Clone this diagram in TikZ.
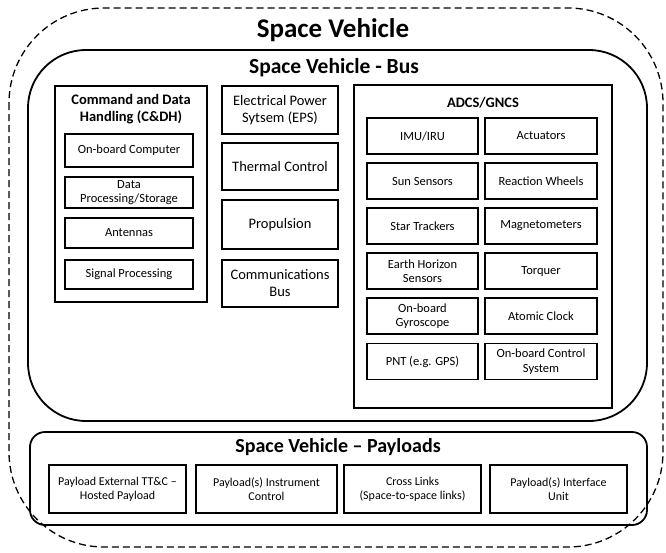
\documentclass[tikz,border=0pt]{standalone}
\usepackage{fontspec}
\setmainfont{Carlito}
\begin{document}
\begin{tikzpicture}[x=1pt,y=-1pt,
  sbox/.style={draw, line width=1.8pt, align=center, inner sep=1pt, font=\fontsize{12.5}{14.5}\selectfont},
  mbox/.style={draw, line width=1.8pt, align=center, inner sep=1pt, minimum width=116pt, font=\fontsize{14.5}{17}\selectfont},
  cbox/.style={sbox, minimum width=128pt},
  lbox/.style={sbox, minimum width=111pt, minimum height=36pt},
  rbox/.style={sbox, minimum width=112pt, minimum height=36pt},
  pbox/.style={sbox, minimum height=48pt, font=\fontsize{12}{14}\selectfont},
  container/.style={draw, line width=1.8pt},
  ttl/.style={font=\bfseries\fontsize{20}{24}\selectfont}
]
\useasboundingbox (0,0) rectangle (666,552);
% outer dashed
\draw[line width=1.3pt, dash pattern=on 7pt off 4pt, rounded corners=95pt] (9,8) rectangle (663,547);
\node[font=\bfseries\fontsize{27}{32}\selectfont] (sv) at (333,30) {Space Vehicle};
% bus
\draw[container, rounded corners=58pt] (28,50) rectangle (647,421);
\node[font=\bfseries\fontsize{21.5}{25}\selectfont] (bus) at (334,68) {Space Vehicle - Bus};
% C&DH
\draw[container] (55,86) rectangle (207,302);
\node[align=center, font=\bfseries\fontsize{14.5}{17}\selectfont] (cdh) at (131,109) {Command and Data\\Handling (C\&DH)};
\node[cbox, minimum height=33pt] (obc) at (129,150.5) {On-board Computer};
\node[cbox, minimum height=31pt] (dps) at (129,192.5) {Data\\Processing/Storage};
\node[cbox, minimum height=30pt] (ant) at (129,233) {Antennas};
\node[cbox, minimum height=29pt] (sig) at (129,274.5) {Signal Processing};
% middle column
\node[mbox, minimum height=48pt] (eps) at (280,110) {Electrical Power\\Sytsem (EPS)};
\node[mbox, minimum height=47pt] (thc) at (280,166.5) {Thermal Control};
\node[mbox, minimum height=49pt] (prop) at (280,224.5) {Propulsion};
\node[mbox, minimum height=47pt] (comm) at (280,283.5) {Communications\\Bus};
% ADCS
\draw[container] (354,85) rectangle (612,408);
\node[font=\bfseries\fontsize{14.5}{17}\selectfont] (adcs) at (483,103) {ADCS/GNCS};
\node[lbox] (imu) at (422.5,136) {IMU/IRU};
\node[lbox] (sun) at (422.5,181) {Sun Sensors};
\node[lbox] (star) at (422.5,226) {Star Trackers};
\node[lbox] (earth) at (422.5,271) {Earth Horizon\\Sensors};
\node[lbox] (gyro) at (422.5,316) {On-board\\Gyroscope};
\node[lbox] (pnt) at (422.5,361.5) {PNT (e.g. GPS)};
\node[rbox] (act) at (541,136) {Actuators};
\node[rbox] (rw) at (541,181) {Reaction Wheels};
\node[rbox] (mag) at (541,226) {Magnetometers};
\node[rbox] (torq) at (541,271) {Torquer};
\node[rbox] (clk) at (541,316) {Atomic Clock};
\node[rbox] (ocs) at (541,361.5) {On-board Control\\System};
% payloads
\draw[container, rounded corners=15pt] (30,432) rectangle (647,525);
\node[ttl] (pl) at (338,447) {Space Vehicle – Payloads};
\node[pbox, minimum width=137pt] (p1) at (117.5,489) {Payload External TT\&C –\\Hosted Payload};
\node[pbox, minimum width=141pt] (p2) at (266.5,489) {Payload(s) Instrument\\Control};
\node[pbox, minimum width=137pt] (p3) at (412.5,489) {Cross Links\\(Space-to-space links)};
\node[pbox, minimum width=137pt] (p4) at (558.5,489) {Payload(s) Interface\\Unit};
\end{tikzpicture}
\end{document}
